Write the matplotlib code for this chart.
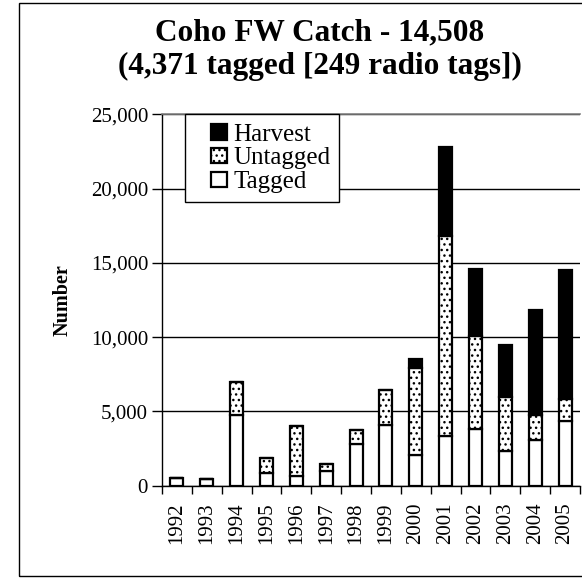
import matplotlib
matplotlib.use("Agg")
import matplotlib.pyplot as plt
import numpy as np
from matplotlib.patches import Rectangle
from matplotlib.container import BarContainer
from matplotlib.legend_handler import HandlerPatch

plt.rcParams['font.family'] = ['Liberation Serif', 'DejaVu Serif']
plt.rcParams['hatch.linewidth'] = 1.0
plt.rcParams['hatch.color'] = '#333333'

years = ['1992', '1993', '1994', '1995', '1996', '1997', '1998', '1999',
         '2000', '2001', '2002', '2003', '2004', '2005']
tagged = [540, 450, 4790, 830, 670, 990, 2780, 4120, 2060, 3340, 3790, 2330, 3070, 4371]
untagged = [0, 0, 2200, 1010, 3320, 450, 1000, 2300, 5870, 13500, 6290, 3650, 1720, 1500]
harvest = [0, 0, 0, 0, 0, 0, 0, 0, 630, 5940, 4500, 3520, 7010, 8640]

title = "Coho FW Catch - 14,508\n(4,371 tagged [249 radio tags])"
ylabel = "Number"

fig = plt.figure(figsize=(5.82, 5.81), dpi=100)
W, H = 582, 581
AX_L, AX_R, AX_B, AX_T = 162, 580, 485.7, 114.4
ax = fig.add_axes([AX_L / W, 1 - AX_B / H, (AX_R - AX_L) / W, (AX_B - AX_T) / H])

x = np.arange(len(years))
t = np.array(tagged)
u = np.array(untagged)
h = np.array(harvest)
bw = 0.44
lw = 1.6
ax.bar(x, t, bw, color='white', edgecolor='black', linewidth=lw, label='Tagged', zorder=3)
ax.bar(x, u, bw, bottom=t, color='white', edgecolor='black', linewidth=lw,
       hatch='...', label='Untagged', zorder=3)
ax.bar(x, h, bw, bottom=t + u, color='black', edgecolor='black', linewidth=lw,
       label='Harvest', zorder=3)

ax.set_xlim(-0.5, len(years) - 0.5)
ax.set_ylim(0, 25000)
ax.set_yticks(np.arange(0, 25001, 5000))
ax.set_yticklabels([f"{v:,}" for v in range(0, 25001, 5000)], fontsize=15)
ax.tick_params(axis='y', direction='out', length=7, width=1, pad=3)

ax.set_xticks(np.arange(-0.5, len(years), 1.0))
ax.set_xticklabels([])
ax.tick_params(axis='x', which='major', direction='out', length=6, width=1)
ax.set_xticks(x, minor=True)
ax.set_xticklabels(years, minor=True, rotation=90, fontsize=15)
ax.tick_params(axis='x', which='minor', length=0, pad=12)

ax.grid(axis='y', color='black', linewidth=1.0, zorder=0)
ax.set_axisbelow(True)
ax.spines['right'].set_visible(False)
ax.spines['top'].set_color('#808080')
ax.spines['top'].set_linewidth(1.2)
ax.spines['left'].set_linewidth(1.0)
ax.spines['bottom'].set_linewidth(1.0)

ax.set_ylabel(ylabel, fontsize=14.5, fontweight='bold', labelpad=0)
ax.yaxis.set_label_coords((73 - AX_L) / (AX_R - AX_L), 0.5)


def square_patch(legend, orig_handle, xdescent, ydescent, width, height, fontsize):
    s = 0.62 * fontsize
    return Rectangle((-xdescent + width - s, -ydescent + (height - s) / 2), s, s)


def first_child(legend_handle, orig_handle):
    legend_handle.update_from(orig_handle.patches[0])


handles, labels = ax.get_legend_handles_labels()
leg = ax.legend(handles[::-1], labels[::-1], loc='upper left',
                bbox_to_anchor=((185.3 - AX_L) / (AX_R - AX_L), 1.0),
                fontsize=18, frameon=True, fancybox=False, framealpha=1,
                edgecolor='black', borderaxespad=0, handlelength=1.3,
                handleheight=0.7, handletextpad=0.28, labelspacing=0.05,
                borderpad=0.35,
                handler_map={BarContainer: HandlerPatch(patch_func=square_patch,
                                                        update_func=first_child)})
leg.get_frame().set_linewidth(1.0)
leg.set_zorder(5)

fig.text(320 / W, 1 - 50 / H, title, ha='center', va='center', fontsize=22.5,
         fontweight='bold', linespacing=1.2)

fig.patches.append(Rectangle((19 / W, 1 - 576 / H), 1.2, (576 - 2.7) / H,
                             transform=fig.transFigure, fill=False,
                             edgecolor='black', linewidth=1.0))

fig.savefig('out.png', dpi=100)
